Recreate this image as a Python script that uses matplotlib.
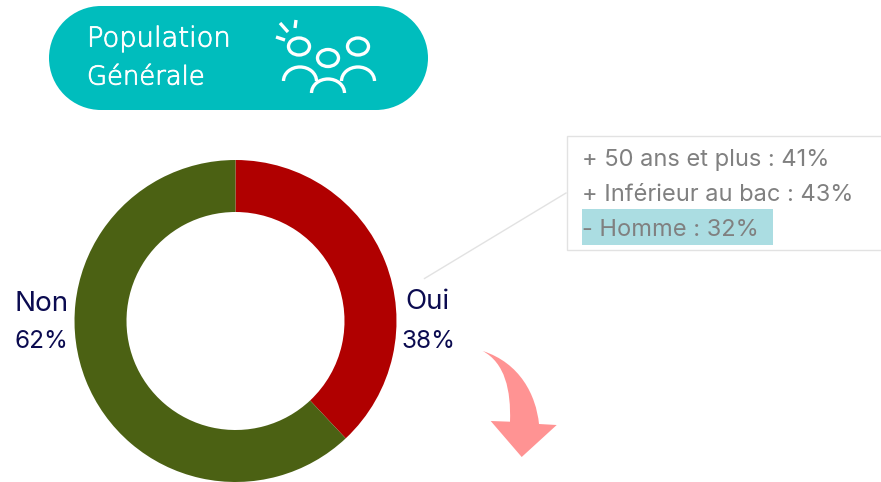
import matplotlib
matplotlib.use("Agg")
import matplotlib.pyplot as plt
import matplotlib.patheffects as pe
from matplotlib.patches import Rectangle, Ellipse, Arc, PathPatch, Circle
from matplotlib.path import Path

W, H = 881, 482

# data
labels = ["Oui", "Non"]
values = [38, 62]
colors = ["#B00000", "#4B6113"]
details = ["+ 50 ans et plus : 41%", "+ Inférieur au bac : 43%", "- Homme : 32%"]
title_lines = ["Population", "Générale"]

plt.rcParams["font.family"] = ["Inter", "DejaVu Sans"]

fig = plt.figure(figsize=(W / 100, H / 100), dpi=100)
ax = fig.add_axes([0, 0, 1, 1])


def y(py):
    # picture rows run downwards, the axes upwards
    return H - py


# donut
ax.pie(values, colors=colors, center=(235.5, y(321)), radius=161, startangle=90,
       counterclock=False, wedgeprops={"width": 52, "linewidth": 0})
ax.set_xlim(0, W)
ax.set_ylim(0, H)
ax.set_aspect("auto")
ax.axis("off")

navy = "#0B0B50"
ax.text(427.5, y(302), labels[0], fontsize=20, color=navy, ha="center", va="center")
ax.text(428.5, y(341), f"{values[0]}%", fontsize=17.5, color=navy, ha="center", va="center")
ax.text(41.5, y(304), labels[1], fontsize=20, color=navy, ha="center", va="center")
ax.text(41, y(342), f"{values[1]}%", fontsize=17.5, color=navy, ha="center", va="center")

# header pill
teal = "#00BDBD"
ax.add_patch(Rectangle((101, y(110)), 275, 104, fc=teal, ec="none"))
ax.add_patch(Circle((101, y(58)), 52, fc=teal, ec="none"))
ax.add_patch(Circle((376, y(58)), 52, fc=teal, ec="none"))
thick = [pe.withStroke(linewidth=0.6, foreground="white")]
ax.text(87, y(39), title_lines[0], fontsize=19.7, color="white", va="center",
        family="DejaVu Sans", fontweight="light", path_effects=thick)
ax.text(87, y(77), title_lines[1], fontsize=18.6, color="white", va="center",
        family="DejaVu Sans", fontweight="light", path_effects=thick)

# people icon
lw = 2.4
for cx, cy in [(299, 46.5), (328, 58), (358, 46.5)]:
    ax.add_patch(Ellipse((cx, y(cy)), 21, 17, fc="none", ec="white", lw=lw))
for cx, base in [(300, 81), (358, 81), (328, 93)]:
    ax.add_patch(Arc((cx, y(base)), 33, 28, theta1=0, theta2=180, ec="white", lw=lw))
for x0, y0, x1, y1 in [(280, 23, 288, 32), (296, 20, 295, 28), (276, 37, 285, 40)]:
    ax.plot([x0, x1], [y(y0), y(y1)], color="white", lw=lw, solid_capstyle="butt")

# detail box
ax.plot([424.5, 566], [y(278.5), y(193)], color="#E2E2E2", lw=1)
ax.add_patch(Rectangle((566.5, y(249.5)), 320, 114, fc="white", ec="#E2E2E2", lw=1))
ax.add_patch(Rectangle((582, y(245)), 191, 36, fc="#ABDDE2", ec="none"))
for line, py in zip(details, [160, 195, 230.5]):
    ax.text(582, y(py), line, fontsize=17, color="#808080", va="center")

# curved arrow
verts = [(482.7, 351), (520, 363), (536, 395), (539, 424), (556.7, 425), (521.7, 457),
         (490.7, 421), (510, 421.7), (511, 390), (505, 363), (482.7, 351)]
codes = [Path.MOVETO, Path.CURVE4, Path.CURVE4, Path.CURVE4, Path.LINETO, Path.LINETO,
         Path.LINETO, Path.LINETO, Path.CURVE4, Path.CURVE4, Path.CURVE4]
ax.add_patch(PathPatch(Path([(a, y(b)) for a, b in verts], codes), fc="#FF9393", ec="none"))

fig.savefig("out.png", dpi=100)
